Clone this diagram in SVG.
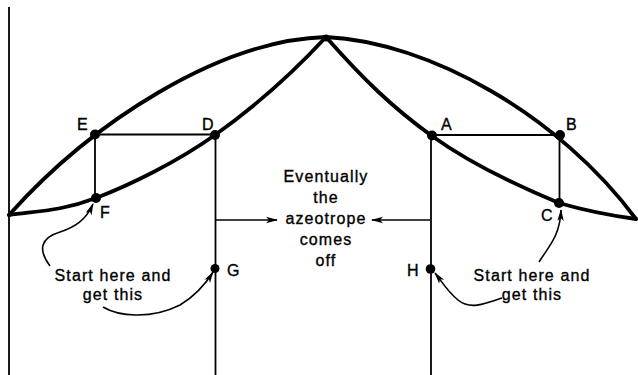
<svg xmlns="http://www.w3.org/2000/svg" width="638" height="375" viewBox="0 0 638 375">
<style>
.curve{fill:none;stroke:#000;stroke-width:3.8;stroke-linecap:round;stroke-linejoin:round}
.thin{fill:none;stroke:#000;stroke-width:1.8}
.arr{fill:none;stroke:#000;stroke-width:1.6}
.dot{fill:#000}
text{font-family:"Liberation Sans",Arial,sans-serif;font-size:16px;fill:#000;stroke:#000;stroke-width:0.35px}
.lbl{text-anchor:middle;letter-spacing:1.1px}
</style>
<defs>
<marker id="ah" viewBox="0 0 12 8" refX="11" refY="4" markerWidth="12" markerHeight="8" markerUnits="userSpaceOnUse" orient="auto">
<path d="M0,0.8 L12,4 L0,7.2 L3,4 Z" fill="#000"/>
</marker>
</defs>
<rect width="638" height="375" fill="#fff"/>
<g id="axis"><line class="thin" x1="9" y1="7" x2="9" y2="375" stroke-width="2.2"/></g>
<g id="curves">
<path class="curve" d="M9,215 C38,211 62,211 96,198 C130,185 177,162 215,135 C253,108 289,77 326,37"/>
<path class="curve" d="M326,37 C363,79 393,108 432,136 C471,164 525,189 559,203 C590,212 614,216 636,219"/>
<path class="curve" d="M9,215 C92,122 220,40 326,37 C430,42 560,116 636,219"/>
</g>
<g id="connectors">
<line class="thin" x1="95" y1="134.5" x2="215" y2="134.5"/>
<line class="thin" x1="432" y1="135" x2="560" y2="135"/>
<line class="thin" x1="95" y1="134.5" x2="95" y2="198"/>
<line class="thin" x1="559.5" y1="135" x2="559.5" y2="203"/>
<line class="thin" x1="215.5" y1="135" x2="215.5" y2="375"/>
<line class="thin" x1="431" y1="136" x2="431" y2="375"/>
<line class="arr" x1="216" y1="220" x2="277" y2="220" marker-end="url(#ah)"/>
<line class="arr" x1="430" y1="220" x2="372" y2="220" marker-end="url(#ah)"/>
<path class="arr" d="M50,266 C38,250 40,238 60,232 C75,227 86,220 93,204" marker-end="url(#ah)"/>
<path class="arr" d="M103,307 C118,316 150,320 180,305 C195,296 205,285 213,272" marker-end="url(#ah)"/>
<path class="arr" d="M539,262 C549,246 560,236 561,210" marker-end="url(#ah)"/>
<path class="arr" d="M502,298 C485,304 470,310 458,300 C448,292 442,282 435,273" marker-end="url(#ah)"/>
</g>
<g id="apex"><circle class="dot" cx="326" cy="38" r="3.5"/></g>
<g id="E"><circle class="dot" cx="95" cy="134.5" r="5"/><text x="77" y="130">E</text></g>
<g id="D"><circle class="dot" cx="215" cy="135" r="5"/><text x="202" y="130">D</text></g>
<g id="F"><circle class="dot" cx="96" cy="198" r="5"/><text x="100" y="218">F</text></g>
<g id="A"><circle class="dot" cx="432" cy="135.5" r="5"/><text x="441" y="130">A</text></g>
<g id="B"><circle class="dot" cx="560" cy="135" r="5"/><text x="566" y="130">B</text></g>
<g id="C"><circle class="dot" cx="559" cy="203" r="5"/><text x="541" y="221">C</text></g>
<g id="G"><circle class="dot" cx="215" cy="268.5" r="4.5"/><text x="227" y="276">G</text></g>
<g id="H"><circle class="dot" cx="430.5" cy="269" r="4.8"/><text x="407" y="276">H</text></g>
<g id="azeotrope-note">
<text class="lbl" x="326" y="182">Eventually</text>
<text class="lbl" x="326" y="203">the</text>
<text class="lbl" x="326" y="224">azeotrope</text>
<text class="lbl" x="326" y="245">comes</text>
<text class="lbl" x="326" y="266">off</text>
</g>
<g id="start-left">
<text class="lbl" x="113" y="281">Start here and</text>
<text class="lbl" x="113" y="300">get this</text>
</g>
<g id="start-right">
<text class="lbl" x="532" y="281">Start here and</text>
<text class="lbl" x="532" y="300">get this</text>
</g>
</svg>
